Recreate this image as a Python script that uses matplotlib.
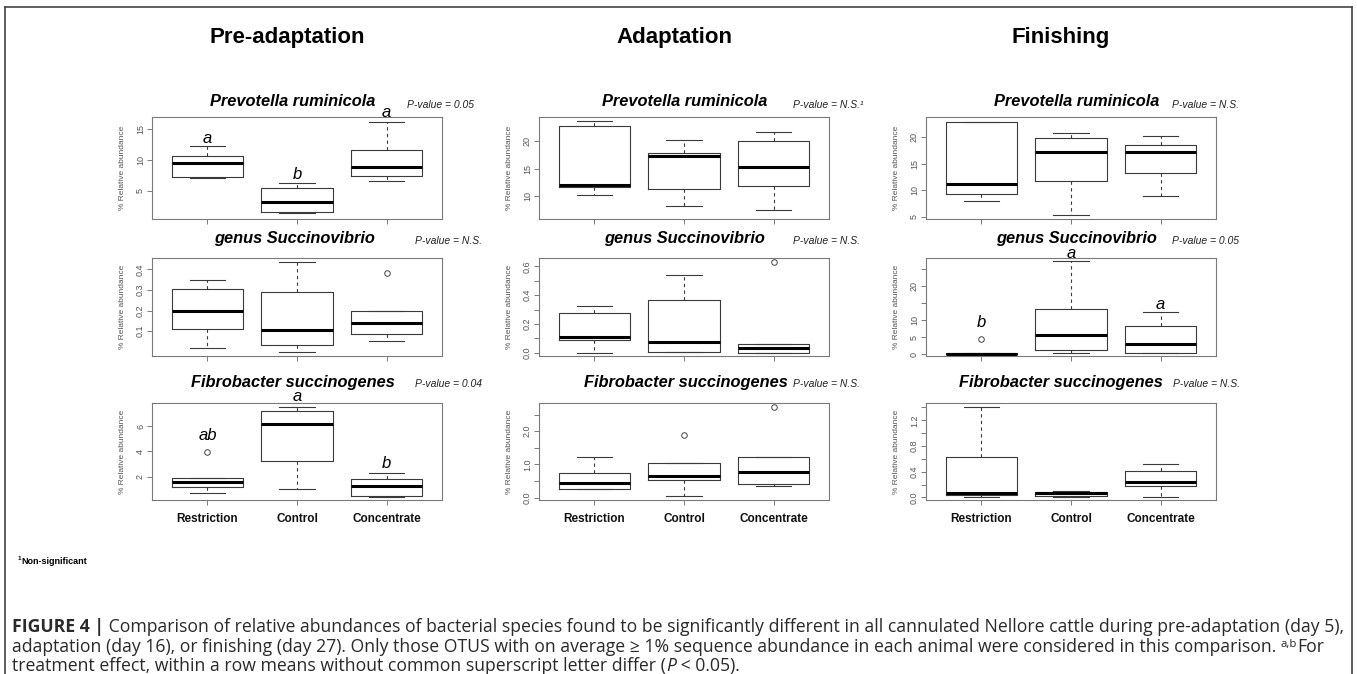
import matplotlib
matplotlib.use("Agg")
import matplotlib.pyplot as plt
from matplotlib.lines import Line2D

W, H = 1357, 674
fig = plt.figure(figsize=(W / 100, H / 100), dpi=100)
plt.rcParams['font.family'] = ['Liberation Sans', 'DejaVu Sans']

# ---------------- data ----------------
groups = ["Restriction", "Control", "Concentrate"]
phases = ["Pre-adaptation", "Adaptation", "Finishing"]
species = ["Prevotella ruminicola", "genus Succinovibrio", "Fibrobacter succinogenes"]

# five-number summaries per group: [whisker low, Q1, median, Q3, whisker high]
prev_pre = [[7.1, 7.3, 9.5, 10.7, 12.3], [1.45, 1.55, 3.2, 5.45, 6.2], [6.6, 7.4, 8.8, 11.7, 16.2]]
prev_adapt = [[10.25, 11.7, 12.1, 22.8, 23.6], [8.3, 11.4, 17.3, 17.8, 20.3], [7.6, 11.9, 15.3, 20.0, 21.6]]
prev_fin = [[7.9, 9.3, 11.2, 22.9, 23.0], [5.2, 11.7, 17.3, 19.9, 20.9], [8.8, 13.3, 17.2, 18.5, 20.3]]
succ_pre = [[0.017, 0.11, 0.2, 0.305, 0.348], [0.0, 0.031, 0.107, 0.289, 0.436], [0.054, 0.087, 0.139, 0.2, 0.2]]
succ_adapt = [[0.0, 0.088, 0.107, 0.274, 0.326], [0.002, 0.002, 0.072, 0.367, 0.537], [0.0, 0.0, 0.03, 0.06, 0.06]]
succ_fin = [[0.0, 0.0, 0.1, 0.3, 0.5], [0.3, 1.2, 5.7, 13.2, 27.2], [0.3, 0.5, 3.0, 8.2, 12.5]]
fibro_pre = [[0.72, 1.2, 1.6, 1.92, 1.92], [1.01, 3.28, 6.19, 7.2, 7.55], [0.4, 0.45, 1.25, 1.79, 2.27]]
fibro_adapt = [[0.25, 0.27, 0.43, 0.73, 1.22], [0.05, 0.53, 0.65, 1.03, 1.03], [0.35, 0.4, 0.78, 1.22, 1.22]]
fibro_fin = [[0.01, 0.037, 0.063, 0.626, 1.40], [0.005, 0.02, 0.063, 0.078, 0.1], [0.01, 0.177, 0.245, 0.41, 0.516]]

# outliers per group
succ_pre_out = [[], [], [0.384]]
succ_adapt_out = [[], [], [0.628]]
succ_fin_out = [[4.6], [], []]
fibro_pre_out = [[3.95], [], []]
fibro_adapt_out = [[], [1.9], [2.73]]
no_out = [[], [], []]

# y axis tick values / labels
prev_pre_ticks = [5, 10, 15]
prev_adapt_ticks = [10, 15, 20]
prev_fin_ticks = [5, 10, 15, 20]
succ_pre_ticks = [0.1, 0.2, 0.3, 0.4]
succ_adapt_ticks = [0.0, 0.1, 0.2, 0.3, 0.4, 0.5, 0.6]
succ_adapt_labels = ["0.0", "", "0.2", "", "0.4", "", "0.6"]
succ_fin_ticks = [0, 5, 10, 15, 20, 25]
succ_fin_labels = ["0", "5", "10", "", "20", ""]
fibro_pre_ticks = [2, 4, 6]
fibro_adapt_ticks = [0.0, 0.5, 1.0, 1.5, 2.0, 2.5]
fibro_adapt_labels = ["0.0", "", "1.0", "", "2.0", ""]
fibro_fin_ticks = [0.0, 0.2, 0.4, 0.6, 0.8, 1.0, 1.2, 1.4]
fibro_fin_labels = ["0.0", "", "0.4", "", "0.8", "", "1.2", ""]

pvalues = [["P-value = 0.05", "P-value = N.S.\u00b9", "P-value = N.S."],
           ["P-value = N.S.", "P-value = N.S.", "P-value = 0.05"],
           ["P-value = 0.04", "P-value = N.S.", "P-value = N.S."]]

# significance letters and their heights (data units)
prev_pre_letters = ["a", "b", "a"]
prev_pre_letter_y = [13.5, 7.6, 17.8]
succ_fin_letters = ["b", "a", "a"]
succ_fin_letter_y = [9.2, 29.5, 14.5]
fibro_pre_letters = ["ab", "a", "b"]
fibro_pre_letter_y = [5.25, 8.4, 3.07]

panels = [
    [(prev_pre, no_out, prev_pre_ticks, None, (0.4, 17.0)),
     (prev_adapt, no_out, prev_adapt_ticks, None, (5.93, 24.37)),
     (prev_fin, no_out, prev_fin_ticks, None, (4.53, 23.87))],
    [(succ_pre, succ_pre_out, succ_pre_ticks, None, (-0.02, 0.455)),
     (succ_adapt, succ_adapt_out, succ_adapt_ticks, succ_adapt_labels, (-0.023, 0.658)),
     (succ_fin, succ_fin_out, succ_fin_ticks, succ_fin_labels, (-0.5, 28.2))],
    [(fibro_pre, fibro_pre_out, fibro_pre_ticks, None, (0.13, 7.87)),
     (fibro_adapt, fibro_adapt_out, fibro_adapt_ticks, fibro_adapt_labels, (-0.07, 2.85)),
     (fibro_fin, no_out, fibro_fin_ticks, fibro_fin_labels, (-0.04, 1.47))],
]
letters = {(0, 0): (prev_pre_letters, prev_pre_letter_y),
           (1, 2): (succ_fin_letters, succ_fin_letter_y),
           (2, 0): (fibro_pre_letters, fibro_pre_letter_y)}

# ---------------- layout (pixels) ----------------
col_left = [152, 539, 926]
ax_w = 290
row_top = [117, 258, 403]
row_bot = [219, 356, 500]
title_cx = [[293, 685, 1077], [294, 685, 1077], [293, 686, 1061]]
title_y = [102, 238, 383]
pval_x = [[407, 793, 1172], [415, 793, 1172], [415, 793, 1173]]
pval_y = [105, 241, 384]
col_title_x = [287, 674, 1061]

def fx(px):
    return px / W

def fy(py):
    return 1 - py / H

edge = '#3a3a3a'
frame = '#7a7a7a'

for r in range(3):
    for c in range(3):
        stats5, outs, ticks, tlabels, ylim = panels[r][c]
        ax = fig.add_axes([fx(col_left[c]), fy(row_bot[r]), ax_w / W, (row_bot[r] - row_top[r]) / H])
        st = []
        for s, o in zip(stats5, outs):
            st.append(dict(whislo=s[0], q1=s[1], med=s[2], q3=s[3], whishi=s[4], fliers=o))
        ax.bxp(st, positions=[1, 2, 3], widths=0.8, capwidths=0.4, showfliers=True,
               boxprops=dict(color=edge, linewidth=0.8),
               whiskerprops=dict(color=edge, linewidth=0.8, linestyle=(0, (3, 3))),
               capprops=dict(color=edge, linewidth=0.8),
               medianprops=dict(color='black', linewidth=2.2),
               flierprops=dict(marker='o', markerfacecolor='none', markeredgecolor='#444',
                               markersize=4, markeredgewidth=0.7))
        ax.set_xlim(0.38, 3.62)
        ax.set_ylim(*ylim)
        ax.set_yticks(ticks)
        if tlabels is not None:
            ax.set_yticklabels(tlabels)
        else:
            ax.set_yticklabels([('%g' % t) for t in ticks])
        ax.set_xticks([1, 2, 3])
        if r == 2:
            ax.set_xticklabels(groups, fontsize=8.5, fontweight='bold', color='#111')
            ax.tick_params(axis='x', pad=6)
        else:
            ax.set_xticklabels([])
        ax.tick_params(axis='both', direction='out', length=3.5, width=0.7, color=frame)
        ax.tick_params(axis='y', labelsize=6.5, labelcolor='#555', pad=1.5, labelrotation=90)
        for lab in ax.get_yticklabels():
            lab.set_va('center')
        for sp in ax.spines.values():
            sp.set_color(frame)
            sp.set_linewidth(0.8)
        ax.set_ylabel('% Relative abundance', fontsize=6, color='#555')
        ax.yaxis.set_label_coords(-26 / ax_w, 0.5)
        if (r, c) in letters:
            labs, ys = letters[(r, c)]
            for i, (lab, yv) in enumerate(zip(labs, ys)):
                ax.text(i + 1, yv, lab, ha='center', va='center', fontsize=12,
                        style='italic', clip_on=False)
        fig.text(fx(title_cx[r][c]), fy(title_y[r]), species[r], ha='center', va='center',
                 fontsize=11.8, fontweight='bold', style='italic')
        fig.text(fx(pval_x[r][c]), fy(pval_y[r]), pvalues[r][c], ha='left', va='center',
                 fontsize=7.5, style='italic', color='#222')

for c in range(3):
    fig.text(fx(col_title_x[c]), fy(37), phases[c], ha='center', va='center',
             fontsize=16, fontweight='bold')

# footnote
fig.text(fx(18), fy(560), "1", fontsize=4.5, fontweight='bold', va='baseline')
fig.text(fx(21), fy(564), "Non-significant", fontsize=6.5, fontweight='bold', va='baseline')

# frame lines
bc = '#444444'
fig.add_artist(Line2D([fx(5), fx(5)], [fy(7), fy(674)], color=bc, lw=1.2))
fig.add_artist(Line2D([fx(1352), fx(1352)], [fy(7), fy(674)], color=bc, lw=1.2))
fig.add_artist(Line2D([fx(5), fx(1352)], [fy(7), fy(7)], color=bc, lw=1.2))

# caption with mixed styles, font size fitted so the first line spans the frame width
renderer = fig.canvas.get_renderer()
cap_family = ['Open Sans', 'DejaVu Sans']
cap_col = '#2a2a2a'
line1_head = "FIGURE 4 |"
line1_body = (" Comparison of relative abundances of bacterial species found to be significantly "
              "different in all cannulated Nellore cattle during pre-adaptation (day 5),")
line2_body = ("adaptation (day 16), or finishing (day 27). Only those OTUS with on average \u2265 1% "
              "sequence abundance in each animal were considered in this comparison. ")
line3_body = "treatment effect, within a row means without common superscript letter differ ("

probe_fs = 10.0
tmp = fig.text(0, 0, line1_head, family=cap_family, fontsize=probe_fs, fontweight='bold')
tmp2 = fig.text(0, 0, line1_body, family=cap_family, fontsize=probe_fs)
wsum = tmp.get_window_extent(renderer).width + tmp2.get_window_extent(renderer).width
tmp.remove()
tmp2.remove()
cap_fs = probe_fs * (1343 - 12) / wsum


def draw_pieces(x_px, base_px, pieces):
    x = x_px
    for s, kw in pieces:
        kw = dict(kw)
        dy = kw.pop('dy', 0)
        t = fig.text(fx(x), fy(base_px - dy), s, ha='left', va='baseline', color=cap_col,
                     family=cap_family, **kw)
        x += t.get_window_extent(renderer).width

reg = dict(fontsize=cap_fs)
draw_pieces(12, 632, [(line1_head, dict(fontsize=cap_fs, fontweight='bold')), (line1_body, reg)])
draw_pieces(12, 652, [(line2_body, reg), ("a,b", dict(fontsize=cap_fs * 0.65, dy=5)), ("For", reg)])
draw_pieces(12, 671, [(line3_body, reg), ("P", dict(fontsize=cap_fs, style='italic')),
                      (" < 0.05).", reg)])

fig.savefig("out.png", dpi=100)
